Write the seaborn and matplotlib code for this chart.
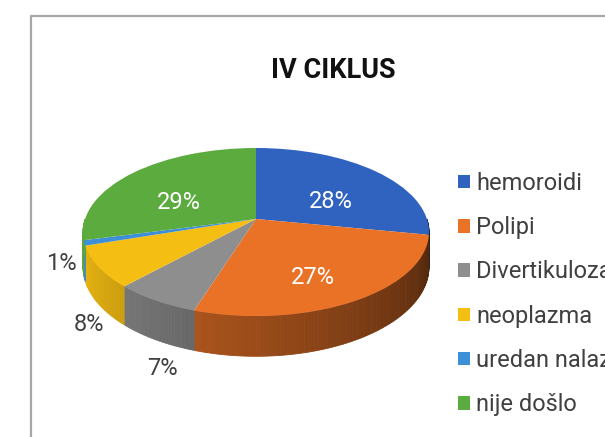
import numpy as np
import matplotlib
matplotlib.use("Agg")
import matplotlib.pyplot as plt
import matplotlib.transforms as mtransforms
from matplotlib.lines import Line2D
from matplotlib.colors import to_rgb
import seaborn as sns

# ---- data ----
categories = ["hemoroidi", "Polipi", "Divertikuloza", "neoplazma", "uredan nalaz", "nije došlo"]
values = [28, 27, 7, 8, 1, 29]
title = "IV CIKLUS"
colors = ["#3063bf", "#ea7226", "#8e8e8e", "#f5be12", "#3d8fd8", "#5bab3e"]

sns.set_theme(style="white")
plt.rcParams["font.family"] = ["Roboto", "DejaVu Sans"]
palette = sns.color_palette(colors)

W, H = 605, 437
fig = plt.figure(figsize=(W / 100, H / 100), dpi=100)
fig.patch.set_facecolor("white")
ax = fig.add_axes([0, 0, 1, 1])

# ---- 3D look: perspective view of the pie disk ----
K = 0.155          # perspective strength
CX, VY = 256, 219  # screen position of the pie centre (pixels)
SX, SY = 170.9, 82.0
T = 34             # wall thickness (pixels)


class Persp(mtransforms.Transform):
    input_dims = 2
    output_dims = 2
    is_separable = False
    has_inverse = False

    def __init__(self, k):
        super().__init__()
        self.k = k

    def transform_non_affine(self, values):
        v = np.asarray(values, dtype=float)
        d = 1 + self.k * v[:, 1]
        return np.column_stack([v[:, 0] / d, v[:, 1] / d])


def proj(u, v):
    d = 1 + K * v
    return CX + SX * u / d, VY - SY * v / d, d


fr = np.array(values, dtype=float) / np.sum(values)
starts = 90 - 360 * np.concatenate([[0], np.cumsum(fr)[:-1]])
ends = starts - 360 * fr


def shade(theta):
    f = 0.9 - 0.004 * (theta + 150)
    return min(1.0, max(0.25, f))


# side walls (front half)
for s, e, c in zip(starts, ends, palette):
    for k in (-360, 0, 360):
        lo, hi = max(e + k, -180), min(s + k, 0)
        if hi > lo:
            n = max(2, int(hi - lo) + 1)
            th = np.linspace(lo, hi, n)
            for i in range(n - 1):
                a, b = np.radians(th[i]), np.radians(th[i + 1])
                xa, ya, da = proj(np.cos(a), np.sin(a))
                xb, yb, db = proj(np.cos(b), np.sin(b))
                xs = [xa, xb, xb, xa]
                ys = [ya, yb, yb + T / db, ya + T / da]
                col = tuple(np.array(to_rgb(c)) * shade((th[i] + th[i + 1]) / 2))
                ax.fill(xs, ys, color=col, lw=0.6, ec=col, zorder=1)

# top face: seaborn palette pie, projected with perspective
wedges, _ = ax.pie(values, colors=palette, startangle=90, counterclock=False,
                   radius=1, center=(0, 0), wedgeprops=dict(linewidth=0))
screen = Persp(K) + mtransforms.Affine2D().scale(SX, -SY).translate(CX, VY) + ax.transData
for w in wedges:
    w.set_transform(screen)
    w.set_clip_on(False)
    w.set_zorder(2)

ax.set_aspect("auto")
ax.set_xlim(0, W)
ax.set_ylim(H, 0)
ax.axis("off")

# ---- percentage labels ----
for s, e, v in zip(starts, ends, values):
    mid = np.radians((s + e) / 2)
    if v >= 15:
        x, y, _ = proj(0.6 * np.cos(mid), 0.6 * np.sin(mid))
        ax.text(x, y + 12, f"{v}%", color="white", fontsize=17,
                ha="center", va="center", zorder=5)
    else:
        c_, s_ = np.cos(mid), np.sin(mid)
        r = 0.93 + 0.25 * abs(c_)
        drop = 60 * np.clip((abs(s_) - 0.27) / 0.45, 0, 1) ** 0.7
        x = 256 + 173 * r * c_
        y = 232 - 84 * r * s_ + drop
        ax.text(x, y, f"{v}%", color="#404040", fontsize=17,
                ha="center", va="center", zorder=5)

# title
fig.text(333 / W, 1 - 70 / H, title, fontsize=19.5, fontweight="bold", color="#111111",
         ha="center", va="center")

# legend
fig.legend(handles=wedges, labels=categories, loc="upper left",
           bbox_to_anchor=(458 / W, 1 - 172 / H), frameon=False, fontsize=17,
           handlelength=0.5, handleheight=0.5, handletextpad=0.26, labelspacing=0.9,
           labelcolor="#404040", borderaxespad=0, borderpad=0)

# chart frame (cropped)
fig.add_artist(Line2D([31 / W, 31 / W, 1.0], [0, 1 - 16 / H, 1 - 16 / H],
                      color="#a6a6a6", lw=1.6, transform=fig.transFigure))

fig.savefig("out.png", dpi=100)
